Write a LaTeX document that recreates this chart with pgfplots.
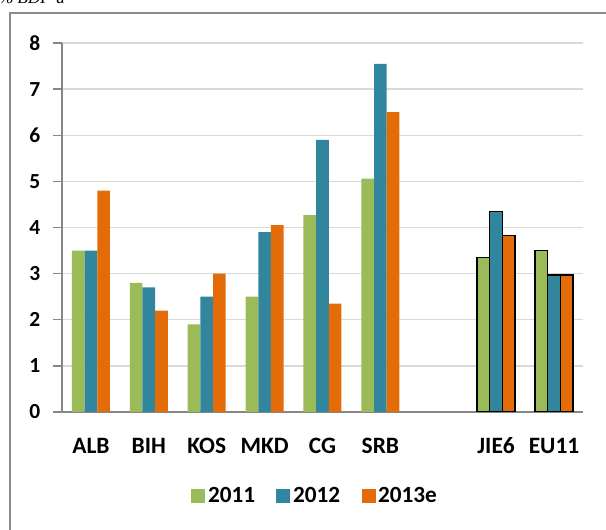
\documentclass[border=0pt]{standalone}
\usepackage{pgfplots}
\pgfplotsset{compat=1.18}
\usepackage{fontspec}
\setmainfont{Carlito}
\newfontfamily\titlefont{Liberation Serif}
\definecolor{cgreen}{HTML}{9BBB59}
\definecolor{cblue}{HTML}{31859C}
\definecolor{corange}{HTML}{E36C09}
\definecolor{cframe}{HTML}{8C8C8C}
\definecolor{cgrid}{HTML}{D9D9D9}
\definecolor{caxis}{HTML}{868686}

\pgfplotstableread{
x a b c
0 3.5  3.5  4.8
1 2.8  2.7  2.2
2 1.9  2.5  3.0
3 2.5  3.9  4.05
4 4.27 5.9  2.35
5 5.06 7.55 6.5
}\mainT
\pgfplotstableread{
x a b c
7 3.35 4.35 3.83
8 3.5  2.97 2.97
}\aggT

\begin{document}
\begin{tikzpicture}[x=0.75pt,y=0.75pt]
\draw[color=cframe, line width=1.1pt] (10,-30) -- (10,517) -- (650,517);
\node[anchor=base west, inner sep=0pt, font=\titlefont\itshape\fontsize{12.75pt}{14pt}\selectfont] at (-1,526) {\% BDP-a};
\begin{axis}[
  at={(46.5pt,88.5pt)}, anchor=south west,
  scale only axis, width=390.75pt, height=276.75pt,
  xmin=-0.5, xmax=8.5, ymin=0, ymax=8,
  ybar, bar width=9.5pt,
  axis x line*=bottom, axis y line*=left,
  axis line style={color=caxis, line width=1pt},
  ymajorgrids, grid style={color=cgrid, line width=1.1pt},
  ytick={0,1,...,8},
  xtick={0,1,2,3,4,5,7,8},
  xticklabels={ALB,BIH,KOS,MKD,CG,SRB,JIE6,EU11},
  tick align=outside,
  major tick length=6.75pt,
  ytick style={color=caxis, line width=1pt},
  xtick style={draw=none},
  /pgf/number format/assume math mode=true,
  yticklabel style={font=\bfseries\fontsize{16.1pt}{18pt}\selectfont, xshift=-6pt},
  xticklabel style={font=\bfseries\fontsize{17.6pt}{20pt}\selectfont, yshift=-8.5pt, text height=12pt, text depth=3pt},
  legend columns=3,
  legend style={at={(0.4866,-0.2276)}, anchor=center, draw=none, fill=none,
    font=\bfseries\fontsize{17.4pt}{20pt}\selectfont,
    /tikz/every even column/.append style={column sep=14pt}},
  legend image code/.code={\fill[#1] (0pt,-5.25pt) rectangle (10.5pt,5.25pt);},
]
\addplot[fill=cgreen, draw=none, bar shift=-9.5pt] table[x=x,y=a]{\mainT};
\addplot[fill=cblue, draw=none, bar shift=0pt] table[x=x,y=b]{\mainT};
\addplot[fill=corange, draw=none, bar shift=9.5pt] table[x=x,y=c]{\mainT};
\addplot[fill=cgreen, draw=black, line width=1pt, bar shift=-9.5pt, forget plot] table[x=x,y=a]{\aggT};
\addplot[fill=cblue, draw=black, line width=1pt, bar shift=0pt, forget plot] table[x=x,y=b]{\aggT};
\addplot[fill=corange, draw=black, line width=1pt, bar shift=9.5pt, forget plot] table[x=x,y=c]{\aggT};
\legend{2011,2012,2013e}
\end{axis}
\pgfresetboundingbox
\useasboundingbox (0,0) rectangle (606,530);
\end{tikzpicture}
\end{document}
